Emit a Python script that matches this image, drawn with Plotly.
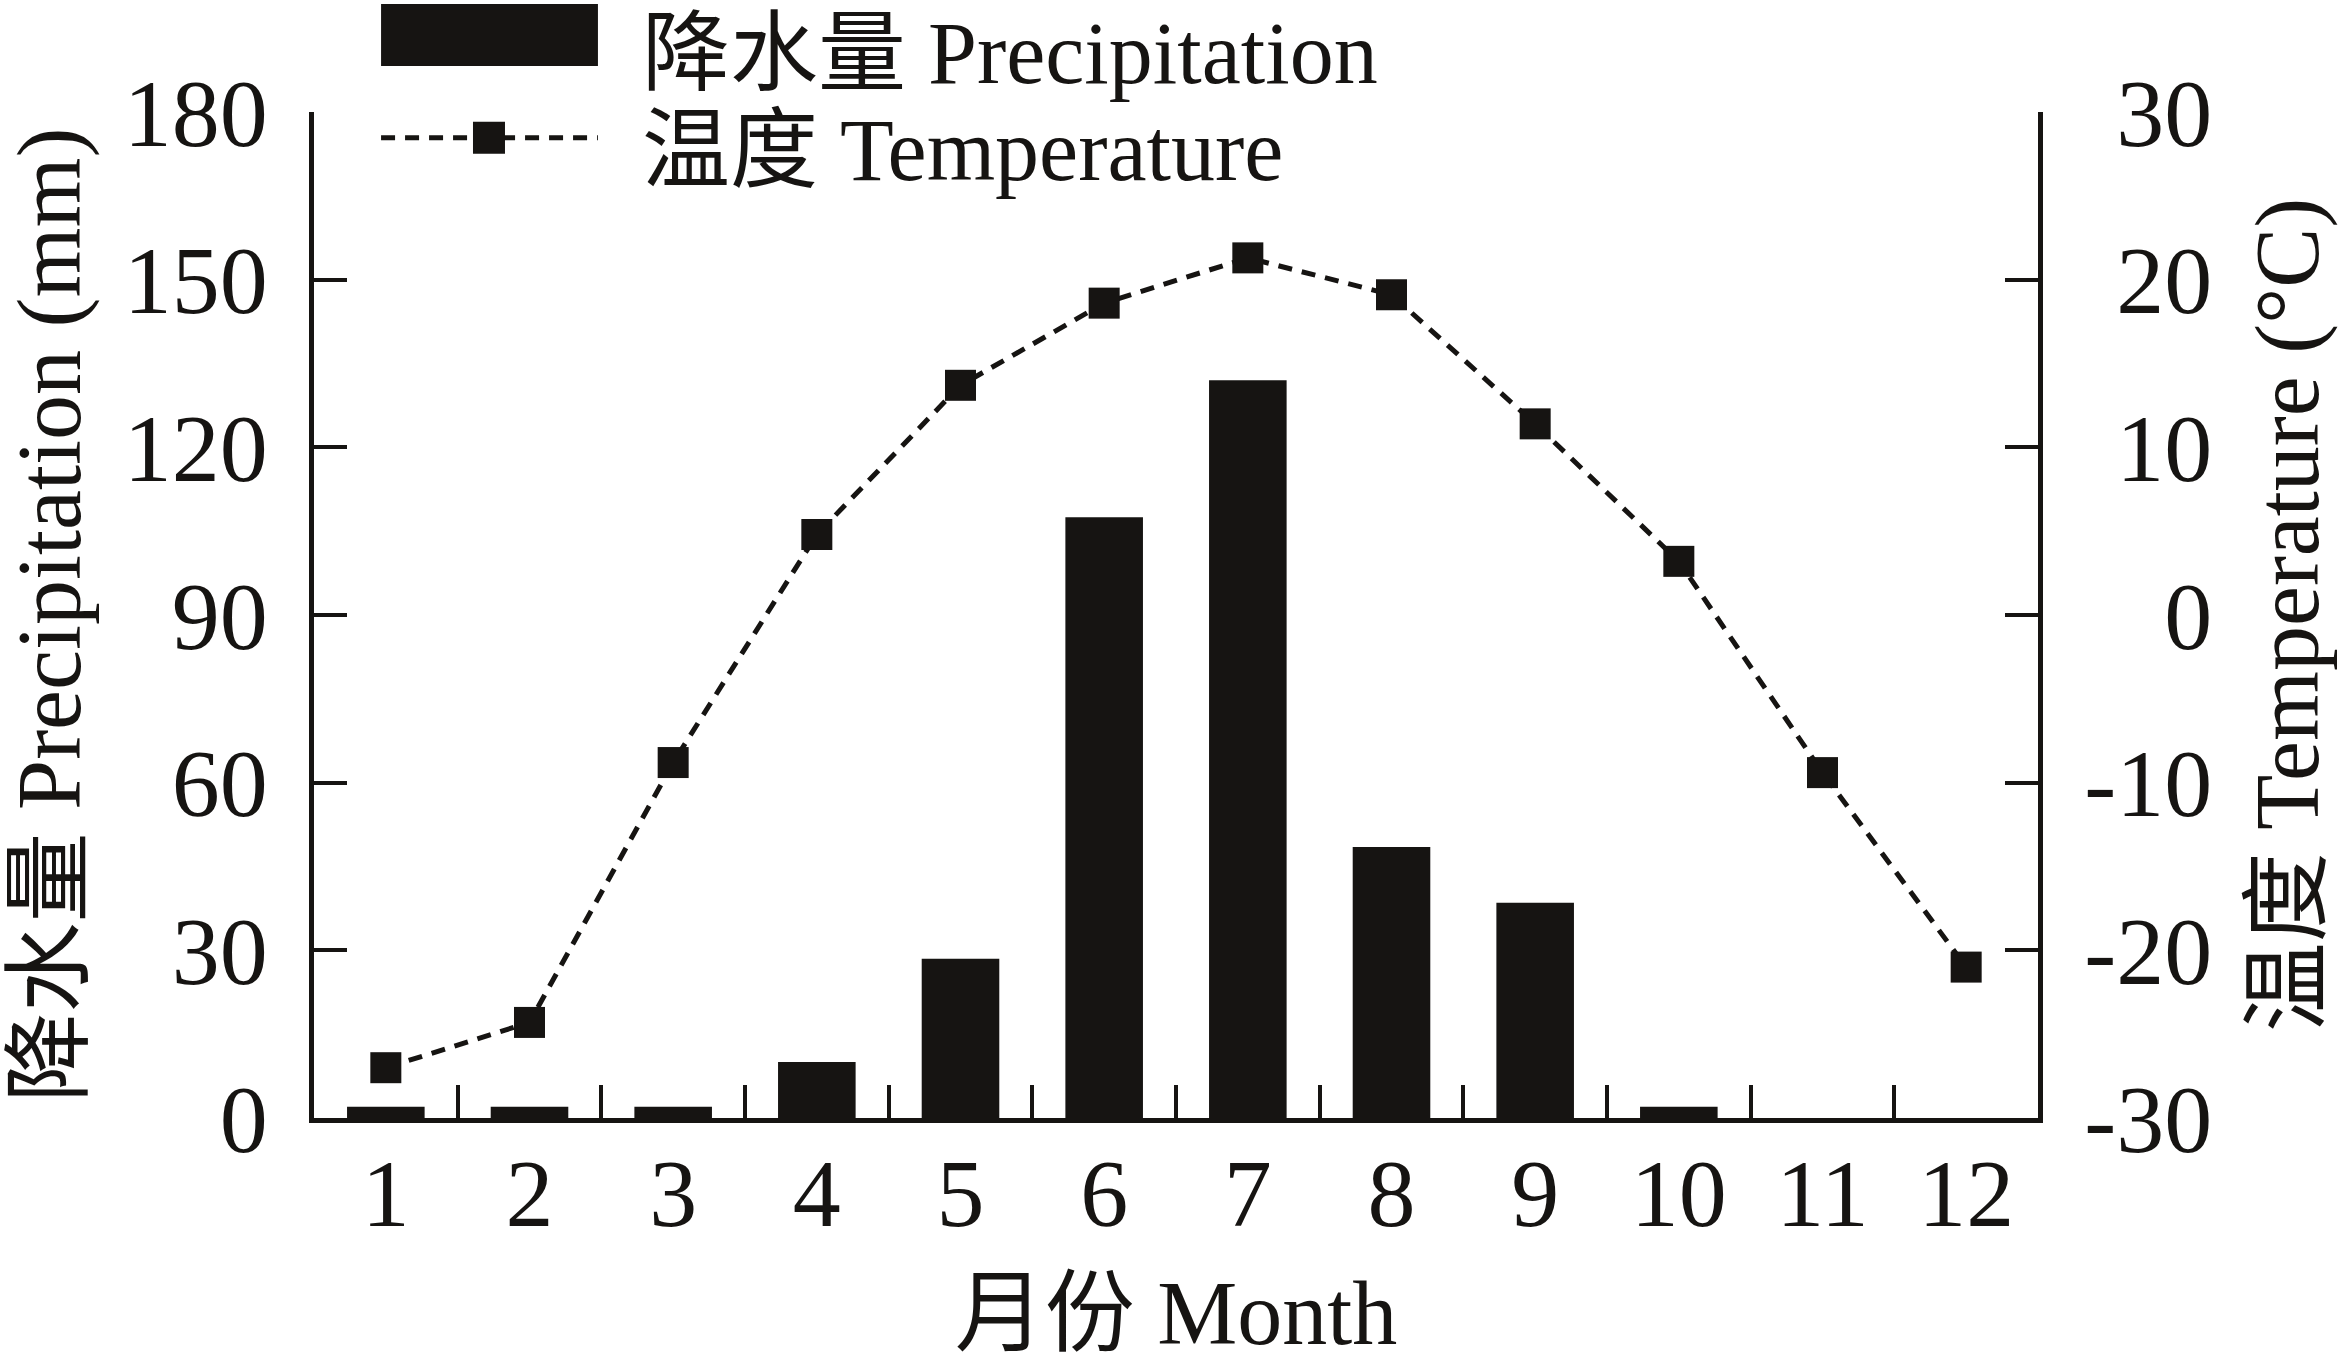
import plotly.graph_objects as go

months = ["1", "2", "3", "4", "5", "6", "7", "8", "9", "10", "11", "12"]
precip = [2, 2, 2, 10, 28.5, 107.5, 132, 48.5, 38.5, 2, 0, 0]
temp = [-27.0, -24.3, -8.8, 4.8, 13.7, 18.6, 21.3, 19.1, 11.4, 3.2, -9.4, -21.0]

precip_ticks = [0, 30, 60, 90, 120, 150, 180]
temp_ticks = [-30, -20, -10, 0, 10, 20, 30]
temp_ticktext = ["-30", "-20", "-10",
                 '<span style="color:rgba(0,0,0,0)">-1</span>0',
                 '<span style="color:rgba(0,0,0,0)">-</span>10',
                 '<span style="color:rgba(0,0,0,0)">-</span>20',
                 '<span style="color:rgba(0,0,0,0)">-</span>30']

legend_precip = "降水量 Precipitation"
legend_temp = "温度 Temperature"
y_title = "降水量 Precipitation (mm)"
y2_title = "温度 Temperature (°C)"
x_title = "月份 Month"

FONT = "Liberation Serif, Times New Roman, Noto Sans CJK SC"
INK = "#161412"

fig = go.Figure()
fig.add_trace(go.Bar(x=months, y=precip, name=legend_precip, marker_color=INK,
                     marker_line_width=0, width=0.54, showlegend=False))
fig.add_trace(go.Scatter(x=months, y=temp, name=legend_temp, yaxis="y2", mode="lines+markers",
                         line=dict(color=INK, width=5, dash="14px,10px"),
                         marker=dict(symbol="square", size=31, color=INK), showlegend=False))

axis_common = dict(showline=True, linecolor=INK, linewidth=5, ticks="inside", automargin=False,
                   ticklen=33, tickwidth=4, tickcolor=INK, showgrid=False, zeroline=False,
                   tickfont=dict(family=FONT, size=96, color=INK))

fig.update_layout(
    width=2346, height=1363,
    margin=dict(l=314, r=308, t=112, b=245),
    paper_bgcolor="white", plot_bgcolor="white",
    font=dict(family=FONT, color=INK),
    xaxis=dict(**axis_common, type="category", range=[-0.5, 11.5], tickson="boundaries",
               ticklabelstandoff=-12,
               title=dict(text=x_title, font=dict(family=FONT, size=90, color=INK), standoff=75)),
    yaxis=dict(**axis_common, range=[0, 180], tickvals=precip_ticks, ticklabelstandoff=22,
               title=dict(text=y_title, font=dict(family=FONT, size=90, color=INK), standoff=25)),
    yaxis2=dict(**axis_common, range=[-30, 30], tickvals=temp_ticks, ticktext=temp_ticktext,
                overlaying="y", side="right", ticklabelstandoff=22,
                title=dict(text=y2_title, font=dict(family=FONT, size=90, color=INK), standoff=45)),
)

# custom legend
fig.add_shape(type="rect", xref="paper", yref="paper", x0=0.0389, x1=0.1647, y0=1.0457, y1=1.1074,
              fillcolor=INK, line=dict(width=0))
fig.add_shape(type="line", xref="paper", yref="paper", x0=0.0389, x1=0.1647, y0=0.9745, y1=0.9745,
              line=dict(color=INK, width=5, dash="14px,10px"))
fig.add_shape(type="rect", xref="paper", yref="paper", xsizemode="pixel", ysizemode="pixel",
              xanchor=0.1015, yanchor=0.9745, x0=-16, x1=16, y0=-16, y1=16,
              fillcolor=INK, line=dict(width=0))
fig.add_annotation(xref="paper", yref="paper", x=0.189, y=1.058, xanchor="left", yanchor="middle",
                   text=legend_precip, showarrow=False, font=dict(family=FONT, size=88, color=INK))
fig.add_annotation(xref="paper", yref="paper", x=0.189, y=0.962, xanchor="left", yanchor="middle",
                   text=legend_temp, showarrow=False, font=dict(family=FONT, size=88, color=INK))

fig.write_html("out.html", config={"displayModeBar": False},
               post_script="document.body.style.margin='0';document.body.style.overflow='hidden';")
